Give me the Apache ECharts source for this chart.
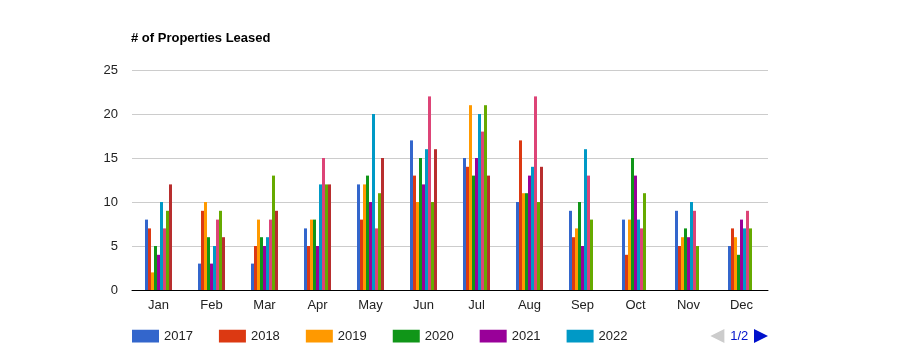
<!DOCTYPE html>
<html>
<head>
<meta charset="utf-8">
<script src="https://cdn.jsdelivr.net/npm/echarts@6/dist/echarts.min.js"></script>
<style>html,body{margin:0;padding:0;background:#fff}#c{width:900px;height:360px}</style>
</head>
<body>
<div id="c"></div>
<script>
var months = ['Jan','Feb','Mar','Apr','May','Jun','Jul','Aug','Sep','Oct','Nov','Dec'];
var years = ['2017','2018','2019','2020','2021','2022','2023','2024','2025'];
var y2017 = [8,3,3,7,12,17,15,10,9,8,9,5];
var y2018 = [7,9,5,5,8,13,14,17,6,4,5,7];
var y2019 = [2,10,8,8,12,10,21,11,7,8,6,6];
var y2020 = [5,6,6,8,13,15,13,11,10,15,7,4];
var y2021 = [4,3,5,5,10,12,15,13,5,13,6,8];
var y2022 = [10,5,6,12,20,16,20,14,16,8,10,7];
var y2023 = [7,8,8,15,7,22,18,22,13,7,9,9];
var y2024 = [9,9,13,12,11,10,21,10,8,11,5,7];
var y2025 = [12,6,9,12,15,16,13,14,null,null,null,null];
var values = [y2017,y2018,y2019,y2020,y2021,y2022,y2023,y2024,y2025];
var colors = ['#3366cc','#dc3912','#ff9900','#109618','#990099','#0099c6','#dd4477','#66aa00','#b82e2e'];
var yTicks = [0,5,10,15,20,25];

var font = '"Liberation Sans", Arial, sans-serif';
var chart = echarts.init(document.getElementById('c'), null, {renderer:'canvas'});
chart.setOption({
  animation: false,
  color: colors,
  title: {
    text: '# of Properties Leased',
    left: 131, top: 32, padding: 0,
    textStyle: {fontFamily: font, fontSize: 13, fontWeight: 'bold', color: '#000'}
  },
  legend: {
    type: 'scroll',
    left: 132, top: 329, width: 636, padding: 0,
    itemWidth: 27, itemHeight: 13, itemGap: 26,
    icon: 'rect',
    data: years,
    textStyle: {fontFamily: font, fontSize: 13, color: '#222'},
    pageButtonGap: 72,
    pageIcons: {horizontal: ['path://M14,0L0,7L14,14z', 'path://M0,0L14,7L0,14z']},
    pageIconColor: '#0011cc',
    pageIconInactiveColor: '#cccccc',
    pageIconSize: [14, 14],
    pageButtonItemGap: 0,
    pageTextStyle: {fontFamily: font, fontSize: 13, color: '#0011cc'}
  },
  grid: {left: 132, right: 132, top: 70, bottom: 70, containLabel: false},
  xAxis: {
    type: 'category',
    data: months,
    axisTick: {show: false},
    axisLine: {lineStyle: {color: '#000', width: 1}},
    axisLabel: {fontFamily: font, fontSize: 13, color: '#222', margin: 9}
  },
  yAxis: {
    type: 'value',
    min: yTicks[0], max: yTicks[yTicks.length-1], interval: 5,
    axisLine: {show: false},
    axisTick: {show: false},
    splitLine: {lineStyle: {color: '#cccccc'}},
    axisLabel: {fontFamily: font, fontSize: 13, color: '#222', margin: 14}
  },
  series: years.map(function(y, i){
    return {
      name: y, type: 'bar', data: values[i],
      barGap: '0%', barCategoryGap: '49%'
    };
  })
});
</script>
</body>
</html>
